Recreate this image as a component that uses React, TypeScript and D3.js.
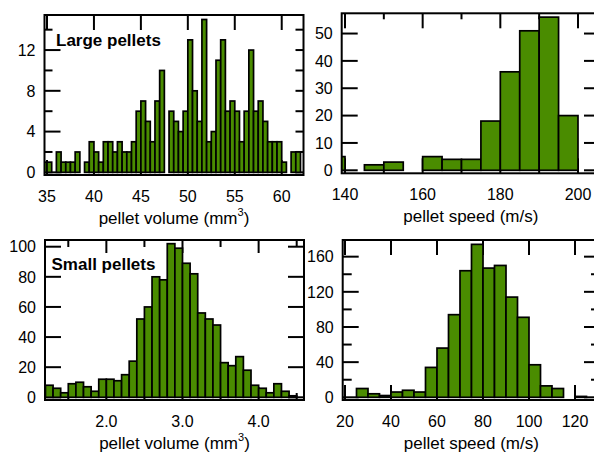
import React, { useEffect, useRef } from 'react';
import * as d3 from 'd3';

// Large pellets: volume histogram, bin width 0.5 mm3 (bin lower edges)
const largeVolumeBins = [
    34.5, 35, 35.5, 36, 36.5, 37, 37.5, 38, 38.5, 39, 39.5, 40, 40.5, 41, 41.5, 42, 42.5, 43, 43.5, 44,
    44.5, 45, 45.5, 46, 46.5, 47, 47.5, 48, 48.5, 49, 49.5, 50, 50.5, 51, 51.5, 52, 52.5, 53, 53.5, 54,
    54.5, 55, 55.5, 56, 56.5, 57, 57.5, 58, 58.5, 59, 59.5, 60, 60.5, 61, 61.5,
];
const largeVolumeCounts = [
    1, 1, 0, 2, 1, 1, 1, 2, 0, 1, 3, 2, 1, 3, 3, 2, 3, 2, 2, 3,
    6, 7, 5, 3, 7, 10, 0, 6, 5, 4, 6, 13, 8, 5, 15, 3, 4, 11, 13, 6,
    7, 6, 3, 6, 12, 6, 7, 5, 3, 3, 3, 1, 0, 2, 2,
];

// Large pellets: speed histogram, bin width 5 m/s
const largeSpeedBins = [135, 140, 145, 150, 155, 160, 165, 170, 175, 180, 185, 190, 195];
const largeSpeedCounts = [5, 0, 2, 3, 0, 5, 4, 4, 18, 36, 51, 56, 20];

// Small pellets: volume histogram, bin width 0.1 mm3
const smallVolumeBins = [
    1.2, 1.3, 1.4, 1.5, 1.6, 1.7, 1.8, 1.9, 2.0, 2.1, 2.2, 2.3, 2.4, 2.5, 2.6, 2.7, 2.8,
    2.9, 3.0, 3.1, 3.2, 3.3, 3.4, 3.5, 3.6, 3.7, 3.8, 3.9, 4.0, 4.1, 4.2, 4.3, 4.4, 4.5,
];
const smallVolumeCounts = [
    8, 6, 3, 9, 10, 7, 4, 12, 12, 11, 15, 24, 52, 60, 80, 78, 102,
    99, 89, 82, 56, 52, 48, 23, 21, 27, 18, 8, 6, 3, 9, 4, 1, 0,
];

// Small pellets: speed histogram, bin width 5 m/s
const smallSpeedBins = [20, 25, 30, 35, 40, 45, 50, 55, 60, 65, 70, 75, 80, 85, 90, 95, 100, 105, 110, 115, 120];
const smallSpeedCounts = [0, 10, 4, 2, 6, 8, 6, 34, 56, 94, 144, 174, 147, 150, 114, 91, 37, 13, 10, 0, 1];

// tick values
const largeVolumeXTicks = [35, 40, 45, 50, 55, 60];
const largeVolumeYTicks = [0, 4, 8, 12];
const largeVolumeYMinor = [2, 6, 10, 14];
const largeSpeedXTicks = [140, 160, 180, 200];
const largeSpeedXMinor = [150, 170, 190];
const largeSpeedYTicks = [0, 10, 20, 30, 40, 50];
const smallVolumeXTicks = [2, 3, 4];
const smallVolumeXMinor = [1.5, 2.5, 3.5, 4.5];
const smallVolumeYTicks = [0, 20, 40, 60, 80, 100];
const smallSpeedXTicks = [20, 40, 60, 80, 100, 120];
const smallSpeedYTicks = [0, 40, 80, 120, 160];
const smallSpeedYMinor = [20, 60, 100, 140];

const FONT = '"Liberation Sans", Arial, Helvetica, sans-serif';
const GREEN = '#4a8c00';

const panels = [
    {
        id: 'lv', bins: largeVolumeBins, counts: largeVolumeCounts, binWidth: 0.5,
        left: 44.5, right: 303.5, top: 15, bottom: 175,
        xDomain: [34.734, 62.32], yDomain: [-0.26, 15.44],
        xTicks: largeVolumeXTicks, xMinor: [], xFmt: d3.format('d'), xMajorLen: 15, xMinorLen: 7,
        yTicks: largeVolumeYTicks, yMinor: largeVolumeYMinor, yMajorLen: 16, yMinorLen: 8, rightLen: 8,
        title: 'volume', tag: 'Large pellets', tagX: 56, tagY: 46,
    },
    {
        id: 'ls', bins: largeSpeedBins, counts: largeSpeedCounts, binWidth: 5,
        left: 341.7, right: 600, top: 13.3, bottom: 173.3,
        xDomain: [139.15, 205.67], yDomain: [-1.1, 57.4],
        xTicks: largeSpeedXTicks, xMinor: largeSpeedXMinor, xFmt: d3.format('d'), xMajorLen: 15, xMinorLen: 6,
        yTicks: largeSpeedYTicks, yMinor: [], yMajorLen: 16, yMinorLen: 8, rightLen: 16,
        title: 'speed', tag: '', tagX: 0, tagY: 0,
    },
    {
        id: 'sv', bins: smallVolumeBins, counts: smallVolumeCounts, binWidth: 0.1,
        left: 45, right: 304, top: 240, bottom: 400,
        xDomain: [1.194, 4.596], yDomain: [-1.79, 104.45],
        xTicks: smallVolumeXTicks, xMinor: smallVolumeXMinor, xFmt: d3.format('.1f'), xMajorLen: 13, xMinorLen: 7,
        yTicks: smallVolumeYTicks, yMinor: [], yMajorLen: 16, yMinorLen: 8, rightLen: 16,
        title: 'volume', tag: 'Small pellets', tagX: 51.5, tagY: 270,
    },
    {
        id: 'ss', bins: smallSpeedBins, counts: smallSpeedCounts, binWidth: 5,
        left: 342.7, right: 600, top: 240, bottom: 400,
        xDomain: [19.0, 130.87], yDomain: [-3.07, 178.96],
        xTicks: smallSpeedXTicks, xMinor: [], xFmt: d3.format('d'), xMajorLen: 15, xMinorLen: 7,
        yTicks: smallSpeedYTicks, yMinor: smallSpeedYMinor, yMajorLen: 16, yMinorLen: 9, rightLen: 0,
        title: 'speed', tag: '', tagX: 0, tagY: 0,
    },
];

function App() {
    const svgRef = useRef(null);

    useEffect(() => {
        const svg = d3.select(svgRef.current);
        svg.selectAll('*').remove();
        const defs = svg.append('defs');

        panels.forEach(p => {
            const x = d3.scaleLinear().domain(p.xDomain).range([p.left, p.right]);
            const y = d3.scaleLinear().domain(p.yDomain).range([p.bottom, p.top]);
            const g = svg.append('g');

            defs.append('clipPath').attr('id', 'clip-' + p.id)
                .append('rect')
                .attr('x', p.left).attr('y', p.top)
                .attr('width', p.right - p.left).attr('height', p.bottom - p.top);

            const tick = (x1, y1, x2, y2) => {
                g.append('line')
                    .attr('x1', x1).attr('y1', y1).attr('x2', x2).attr('y2', y2)
                    .attr('stroke', '#000').attr('stroke-width', 2);
            };

            // x ticks, top and bottom, pointing inward
            p.xTicks.forEach(v => {
                tick(x(v), p.bottom, x(v), p.bottom - p.xMajorLen);
                tick(x(v), p.top, x(v), p.top + p.xMajorLen);
            });
            p.xMinor.forEach(v => {
                tick(x(v), p.bottom, x(v), p.bottom - p.xMinorLen);
                tick(x(v), p.top, x(v), p.top + p.xMinorLen);
            });
            // y ticks, left and right
            const rightMajor = p.rightLen || p.yMajorLen;
            const rightMinor = p.rightLen || p.yMinorLen;
            p.yTicks.forEach(v => {
                tick(p.left, y(v), p.left + p.yMajorLen, y(v));
                tick(p.right, y(v), p.right - rightMajor, y(v));
            });
            p.yMinor.forEach(v => {
                tick(p.left, y(v), p.left + p.yMinorLen, y(v));
                tick(p.right, y(v), p.right - rightMinor, y(v));
            });

            // bars
            const data = p.bins.map((b, i) => ({ x0: b, x1: b + p.binWidth, n: p.counts[i] }));
            g.append('g')
                .attr('clip-path', 'url(#clip-' + p.id + ')')
                .selectAll('rect')
                .data(data)
                .join('rect')
                .attr('x', d => x(d.x0))
                .attr('width', d => x(d.x1) - x(d.x0))
                .attr('y', d => y(d.n))
                .attr('height', d => y(0) - y(d.n))
                .attr('fill', GREEN)
                .attr('stroke', '#000')
                .attr('stroke-width', 1.7);

            // frame
            g.append('rect')
                .attr('x', p.left).attr('y', p.top)
                .attr('width', p.right - p.left).attr('height', p.bottom - p.top)
                .attr('fill', 'none').attr('stroke', '#000').attr('stroke-width', 2);

            // tick labels
            g.selectAll('.xl')
                .data(p.xTicks)
                .join('text')
                .attr('x', d => x(d))
                .attr('y', p.bottom + 26.5)
                .attr('text-anchor', 'middle')
                .attr('font-family', FONT).attr('font-size', 16)
                .text(d => p.xFmt(d));

            g.selectAll('.yl')
                .data(p.yTicks)
                .join('text')
                .attr('x', p.left - 9)
                .attr('y', d => y(d))
                .attr('dy', '0.36em')
                .attr('text-anchor', 'end')
                .attr('font-family', FONT).attr('font-size', 16)
                .text(d => d);

            // axis title
            const cx = (p.left + p.right) / 2;
            const t = g.append('text')
                .attr('x', cx)
                .attr('y', p.bottom + 49)
                .attr('text-anchor', 'middle')
                .attr('font-family', FONT).attr('font-size', 17);
            if (p.title === 'volume') {
                t.append('tspan').text('pellet volume (mm');
                t.append('tspan').attr('dy', -8).attr('font-size', 11).text('3');
                t.append('tspan').attr('dy', 8).text(')');
            } else {
                t.text('pellet speed (m/s)');
            }

            if (p.tag) {
                g.append('text')
                    .attr('x', p.tagX).attr('y', p.tagY)
                    .attr('font-family', FONT).attr('font-size', 17).attr('font-weight', 'bold')
                    .text(p.tag);
            }
        });
    }, []);

    return (
        <svg
            ref={svgRef}
            width={594}
            height={453}
            style={{ position: 'absolute', left: 0, top: 0, background: '#fff' }}
        />
    );
}

export default App;
